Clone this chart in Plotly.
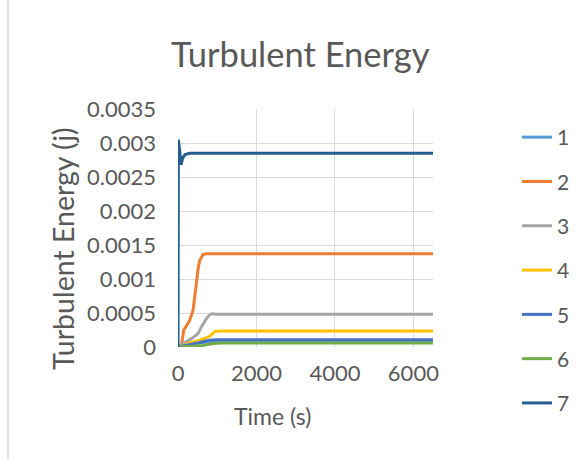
import plotly.graph_objects as go

# ---- data ----
series_names = ["1", "2", "3", "4", "5", "6", "7"]
colors = ["#5B9BD5", "#ED7D31", "#A5A5A5", "#FFC000", "#4472C4", "#70AD47", "#255E91"]

t1 = [0, 150, 400, 700, 950, 6500]
v1 = [0, 0.00002, 0.00005, 0.00007, 0.00008, 0.00008]

t2 = [0, 87, 146, 299, 384, 430, 469, 520, 554, 600, 640, 720, 894, 6500]
v2 = [0, 0.00002, 0.000246, 0.000393, 0.00054, 0.00075, 0.00098, 0.00118, 0.001275, 0.00133, 0.00136, 0.00137, 0.001372, 0.001372]

t3 = [0, 214, 342, 450, 511, 597, 660, 725, 800, 853, 1000, 6500]
v3 = [0, 0.000074, 0.000123, 0.00017, 0.000197, 0.000295, 0.00036, 0.000417, 0.00047, 0.00049, 0.00048, 0.00048]

t4 = [0, 150, 299, 554, 810, 880, 937, 1100, 6500]
v4 = [0, 0.00002, 0.00006, 0.0001, 0.000157, 0.0002, 0.00023, 0.000235, 0.000235]

t5 = [0, 200, 500, 800, 1000, 6500]
v5 = [0, 0.00002, 0.00006, 0.0001, 0.000108, 0.000108]

t6 = [0, 300, 600, 900, 1100, 6500]
v6 = [0, 0.000005, 0.00002, 0.00005, 0.000059, 0.000059]

t7 = [0, 10, 40, 80, 120, 180, 300, 6500]
v7 = [0, 0.00305, 0.0029, 0.00268, 0.00278, 0.00283, 0.00285, 0.00285]

times = [t1, t2, t3, t4, t5, t6, t7]
values = [v1, v2, v3, v4, v5, v6, v7]

x_ticks = [0, 2000, 4000, 6000]
x_tick_labels = ["0", "2000", "4000", "6000"]
y_ticks = [0, 0.0005, 0.001, 0.0015, 0.002, 0.0025, 0.003, 0.0035]
y_tick_labels = ["0", "0.0005", "0.001", "0.0015", "0.002", "0.0025", "0.003", "0.0035"]

title_text = "Turbulent Energy"
x_title = "Time (s)"
y_title = "Turbulent Energy (j)"

# ---- figure ----
FONT = "Lato"
TXT = "#595959"
GRID = "#D9D9D9"

W, H = 586, 459
L, R, T, B = 178, 153, 109, 112
pw, ph = W - L - R, H - T - B

fig = go.Figure()
for name, col, tx, vy in zip(series_names, colors, times, values):
    fig.add_trace(go.Scatter(
        x=tx, y=vy, mode="lines", name=name, legendgroup=name,
        line=dict(color=col, width=3),
    ))

def px2paper_x(px):
    return (px - L) / pw

def px2paper_y(py):
    return (H - B - py) / ph

fig.update_layout(
    width=W, height=H,
    margin=dict(l=L, r=R, t=T, b=B),
    paper_bgcolor="white", plot_bgcolor="white",
    font=dict(family=FONT, color=TXT),
    showlegend=True,
    legend=dict(
        xref="container", yref="container",
        x=517 / W, xanchor="left",
        y=1 - 117 / H, yanchor="top",
        maxheight=H,
        font=dict(family=FONT, size=21, color=TXT),
        tracegroupgap=14,
        itemwidth=30,
        bgcolor="rgba(0,0,0,0)",
    ),
    xaxis=dict(
        range=[0, 6500], tickvals=x_ticks, ticktext=x_tick_labels,
        showgrid=True, gridcolor=GRID, gridwidth=1,
        zeroline=False, showline=False,
        ticks="", ticklabelstandoff=11,
        tickfont=dict(family=FONT, size=22, color=TXT),
        fixedrange=True,
    ),
    yaxis=dict(
        range=[0, 0.0035], tickvals=y_ticks, ticktext=y_tick_labels,
        showgrid=True, gridcolor=GRID, gridwidth=1,
        zeroline=False, showline=False,
        ticks="", ticklabelstandoff=21,
        tickfont=dict(family=FONT, size=22, color=TXT),
        fixedrange=True,
    ),
    annotations=[
        dict(text=title_text, x=px2paper_x(300), y=px2paper_y(54),
             xref="paper", yref="paper", showarrow=False,
             xanchor="center", yanchor="middle",
             font=dict(family=FONT, size=34.5, color=TXT)),
        dict(text=x_title, x=px2paper_x(272), y=px2paper_y(416),
             xref="paper", yref="paper", showarrow=False,
             xanchor="center", yanchor="middle",
             font=dict(family=FONT, size=23, color=TXT)),
        dict(text=y_title, x=px2paper_x(63), y=px2paper_y(249),
             xref="paper", yref="paper", showarrow=False, textangle=-90,
             xanchor="center", yanchor="middle",
             font=dict(family=FONT, size=28.5, color=TXT)),
    ],
    shapes=[
        dict(type="line", xref="paper", yref="paper",
             x0=px2paper_x(8), x1=px2paper_x(8),
             y0=px2paper_y(H), y1=px2paper_y(0),
             line=dict(color="#D9D9D9", width=1.5)),
    ],
)

fig.write_html("out.html")
